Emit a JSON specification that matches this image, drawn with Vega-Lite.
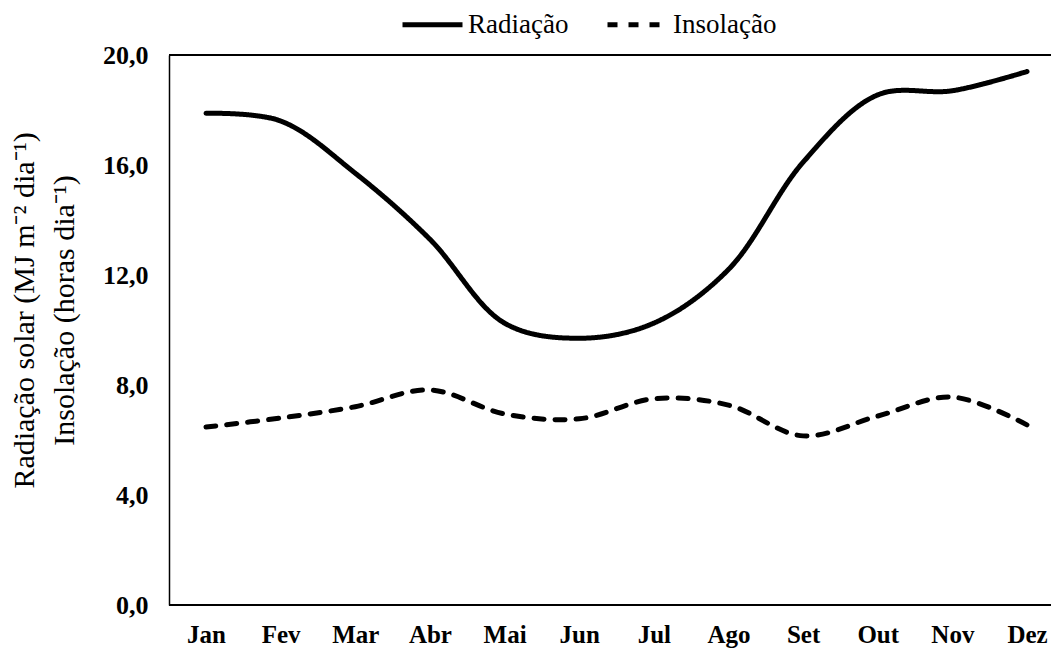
{
  "$schema": "https://vega.github.io/schema/vega-lite/v6.json",
  "width": 882,
  "height": 550,
  "autosize": {"type": "none"},
  "padding": {"left": 169, "top": 55, "right": 0, "bottom": 43},
  "background": "white",
  "config": {
    "view": {"stroke": null},
    "font": "Liberation Serif"
  },
  "data": {
    "values": [
      {"mes": "Jan", "serie": "Radiação", "valor": 17.88},
      {"mes": "Fev", "serie": "Radiação", "valor": 17.6},
      {"mes": "Mar", "serie": "Radiação", "valor": 15.7},
      {"mes": "Abr", "serie": "Radiação", "valor": 13.3},
      {"mes": "Mai", "serie": "Radiação", "valor": 10.25},
      {"mes": "Jun", "serie": "Radiação", "valor": 9.7},
      {"mes": "Jul", "serie": "Radiação", "valor": 10.25},
      {"mes": "Ago", "serie": "Radiação", "valor": 12.2},
      {"mes": "Set", "serie": "Radiação", "valor": 16.1},
      {"mes": "Out", "serie": "Radiação", "valor": 18.55},
      {"mes": "Nov", "serie": "Radiação", "valor": 18.7},
      {"mes": "Dez", "serie": "Radiação", "valor": 19.4},
      {"mes": "Jan", "serie": "Insolação", "valor": 6.47},
      {"mes": "Fev", "serie": "Insolação", "valor": 6.8},
      {"mes": "Mar", "serie": "Insolação", "valor": 7.21},
      {"mes": "Abr", "serie": "Insolação", "valor": 7.82},
      {"mes": "Mai", "serie": "Insolação", "valor": 6.95},
      {"mes": "Jun", "serie": "Insolação", "valor": 6.77},
      {"mes": "Jul", "serie": "Insolação", "valor": 7.5},
      {"mes": "Ago", "serie": "Insolação", "valor": 7.27},
      {"mes": "Set", "serie": "Insolação", "valor": 6.15},
      {"mes": "Out", "serie": "Insolação", "valor": 6.87},
      {"mes": "Nov", "serie": "Insolação", "valor": 7.56},
      {"mes": "Dez", "serie": "Insolação", "valor": 6.55}
    ]
  },
  "layer": [
    {
      "mark": {"type": "line", "interpolate": "catmull-rom", "color": "black", "strokeWidth": 5, "strokeCap": "round"},
      "encoding": {
        "x": {
          "field": "mes",
          "type": "ordinal",
          "sort": ["Jan", "Fev", "Mar", "Abr", "Mai", "Jun", "Jul", "Ago", "Set", "Out", "Nov", "Dez"],
          "scale": {"type": "point", "padding": 0, "range": [37, 858]},
          "axis": {
            "title": null,
            "domain": false,
            "ticks": false,
            "labelAngle": 0,
            "labelFont": "Liberation Serif",
            "labelFontWeight": "bold",
            "labelFontSize": 25,
            "labelColor": "black",
            "labelBaseline": "alphabetic",
            "labelPadding": 37
          }
        },
        "y": {
          "field": "valor",
          "type": "quantitative",
          "scale": {"domain": [0, 20], "nice": false},
          "axis": {
            "values": [0, 4, 8, 12, 16, 20],
            "labelExpr": "replace(format(datum.value, '.1f'), '.', ',')",
            "grid": false,
            "ticks": false,
            "domainColor": "black",
            "domainWidth": 1.5,
            "labelFont": "Liberation Serif",
            "labelFontWeight": "bold",
            "labelFontSize": 26,
            "labelColor": "black",
            "labelPadding": 21,
            "title": ["Radiação solar (MJ m⁻² dia⁻¹)", "Insolação (horas dia⁻¹)"],
            "titleFont": "Liberation Serif",
            "titleFontWeight": "normal",
            "titleFontSize": 30,
            "titleColor": "black",
            "titleLineHeight": 40,
            "titleAngle": -90,
            "titleAlign": "center",
            "titleBaseline": "bottom",
            "titleX": -130,
            "titleY": 255
          }
        },
        "strokeDash": {
          "field": "serie",
          "type": "nominal",
          "scale": {"domain": ["Radiação", "Insolação"], "range": [[1, 0], [10, 11]]},
          "legend": {
            "title": null,
            "orient": "none",
            "direction": "horizontal",
            "legendX": 231,
            "legendY": -63,
            "symbolType": "stroke",
            "symbolSize": 3600,
            "symbolStrokeWidth": 5,
            "symbolStrokeColor": "black",
            "labelFont": "Liberation Serif",
            "labelFontSize": 27,
            "labelColor": "black",
            "labelOffset": 3,
            "columnPadding": 28
          }
        }
      }
    },
    {
      "mark": {"type": "rule", "color": "black", "strokeWidth": 1.5},
      "encoding": {
        "y": {"datum": 20, "type": "quantitative"}
      }
    },
    {
      "mark": {"type": "rule", "color": "black", "strokeWidth": 1.5},
      "encoding": {
        "y": {"datum": 0, "type": "quantitative"}
      }
    }
  ]
}
